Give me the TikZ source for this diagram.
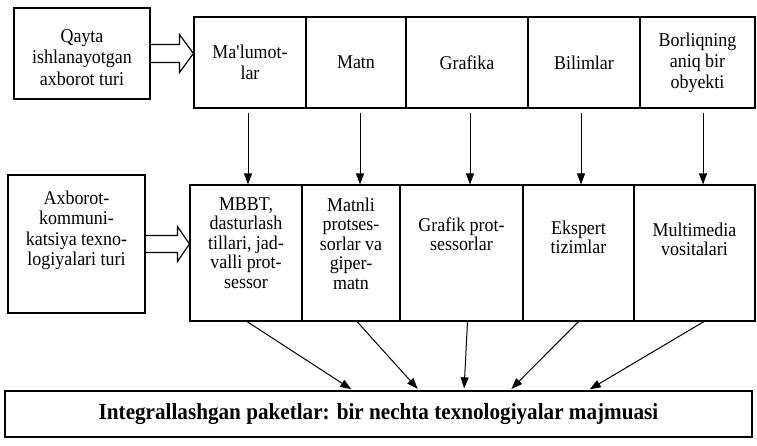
\documentclass[tikz,border=0pt]{standalone}
\usepackage{fontspec}
\setmainfont{Liberation Serif}[FakeStretch=0.92]
\usetikzlibrary{arrows.meta,calc}

\begin{document}
\begin{tikzpicture}[x=1pt, y=1pt,
  sidebox/.style={draw, line width=1.3pt, inner sep=0pt},
  cell/.style={draw, line width=1.1pt, align=center, inner sep=0pt,
    minimum height=91pt, font=\fontsize{19.5}{21}\selectfont},
  slot/.style={draw, line width=1.1pt, inner sep=0pt, minimum height=136pt},
  txt/.style={align=center, inner sep=0pt, font=\fontsize{19.5}{21.5}\selectfont},
  flow/.style={-{Triangle[length=11pt, width=8pt]}, line width=1pt},
  hollow/.style={line width=1.2pt, line join=miter},
  total/.style={draw, line width=1.3pt, minimum width=747pt, minimum height=46pt,
    inner sep=0pt, font=\fontsize{23}{25}\selectfont\bfseries}
]
\useasboundingbox (0,0) rectangle (757,446);
% processed information types
\node[sidebox, minimum width=136pt, minimum height=91pt] (qbox) at (82,392.5) {};
\node[txt] (qtext) at ([yshift=-4pt]qbox.center) {Qayta\\ishlanayotgan\\axborot turi};
\node[cell, minimum width=112pt] (t1) at (250,383.5) {Ma\textquotesingle lumot-\\lar};
\node[cell, minimum width=100pt] (t2) at (356,383.5) {Matn};
\node[cell, minimum width=122pt] (t3) at (467,383.5) {Grafika};
\node[cell, minimum width=112pt] (t4) at (584,383.5) {Bilimlar};
\node[cell, minimum width=115pt] (t5) at (697.5,383.5) {Borliqning\\aniq bir\\obyekti};
% technology types
\node[sidebox, minimum width=137pt, minimum height=138pt] (abox) at (76.5,202) {};
\node[txt, anchor=north, font=\fontsize{19.5}{20.5}\selectfont] (atext)
  at ([yshift=-16pt]abox.north) {Axborot-\\kommuni-\\katsiya texno-\\logiyalari turi};
\node[slot, minimum width=112pt] (m1) at (246,193) {};
\node[slot, minimum width=98pt] (m2) at (351,193) {};
\node[slot, minimum width=123pt] (m3) at (461.5,193) {};
\node[slot, minimum width=111pt] (m4) at (578.5,193) {};
\node[slot, minimum width=121pt] (m5) at (694.5,193) {};
\node[txt, anchor=north, font=\fontsize{19.5}{19.5}\selectfont] (m1t)
  at ([yshift=-13pt]m1.north) {MBBT,\\dasturlash\\tillari, jad-\\valli prot-\\sessor};
\node[txt, anchor=north, font=\fontsize{19.5}{19.5}\selectfont] (m2t)
  at ([yshift=-13pt]m2.north) {Matnli\\protses-\\sorlar va\\giper-\\matn};
\node[txt, anchor=north, font=\fontsize{19.5}{19.5}\selectfont] (m3t)
  at ([yshift=-33pt]m3.north) {Grafik prot-\\sessorlar};
\node[txt, anchor=north, font=\fontsize{19.5}{19.5}\selectfont] (m4t)
  at ([yshift=-36pt]m4.north) {Ekspert\\tizimlar};
\node[txt, anchor=north, font=\fontsize{19.5}{19.5}\selectfont] (m5t)
  at ([yshift=-38pt]m5.north) {Multimedia\\vositalari};
% integrated packages
\node[total] (bot) at (378.5,32) {Integrallashgan paketlar: bir nechta texnologiyalar majmuasi};
% hollow arrows
\draw[hollow] ($(qbox.east)+(0,9)$) -- ($(qbox.east -| t1.west)+(-14,9)$) -- ++(0,10)
  -- (qbox.east -| t1.west) -- ++(-14,-19) -- ++(0,10) -- ($(qbox.east)+(0,-9)$);
\draw[hollow] ($(abox.east)+(0,8.5)$) -- ($(abox.east -| m1.west)+(-12,8.5)$) -- ++(0,9)
  -- (abox.east -| m1.west) -- ++(-12,-17.5) -- ++(0,9) -- ($(abox.east)+(0,-8.5)$);
% downward flows
\draw[flow, shorten <=4pt] ([xshift=-2pt]t1.south) -- ([xshift=-2pt]t1.south |- m1.north);
\draw[flow, shorten <=4pt] ([xshift=4pt]t2.south) -- ([xshift=4pt]t2.south |- m2.north);
\draw[flow, shorten <=4pt] ([xshift=3pt]t3.south) -- ([xshift=3pt]t3.south |- m3.north);
\draw[flow, shorten <=4pt] ([xshift=-3pt]t4.south) -- ([xshift=-3pt]t4.south |- m4.north);
\draw[flow, shorten <=4pt] ([xshift=5.5pt]t5.south) -- ([xshift=5.5pt]t5.south |- m5.north);
% converging flows
\draw[flow, shorten >=2pt] ([xshift=1pt]m1.south) -- ([xshift=-25.5pt]bot.north);
\draw[flow, shorten >=2pt] ([xshift=6pt]m2.south) -- ([xshift=40.5pt]bot.north);
\draw[flow, shorten >=2pt] ([xshift=6pt]m3.south) -- ([xshift=85.5pt]bot.north);
\draw[flow, shorten >=2pt] (m4.south) -- ([xshift=131.5pt]bot.north);
\draw[flow, shorten >=2pt] ([xshift=9.5pt]m5.south) -- ([xshift=209.5pt]bot.north);
\end{tikzpicture}
\end{document}
